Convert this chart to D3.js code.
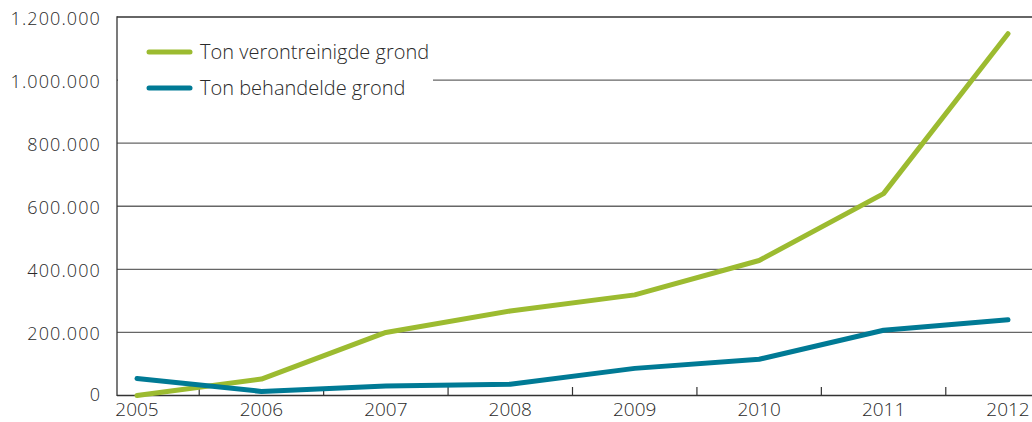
<!DOCTYPE html>
<html><head><meta charset="utf-8">
<script src="https://cdn.jsdelivr.net/npm/d3@7"></script>
<style>body{margin:0;background:#fff}svg{display:block}text{font-family:"Open Sans","Noto Sans",sans-serif;font-weight:300;fill:#2a2a2a}</style>
</head><body><svg id="c" width="1032" height="422"></svg>
<script>
const years = ["2005","2006","2007","2008","2009","2010","2011","2012"];
const verontreinigd = [0, 52000, 200000, 268000, 319000, 428000, 640000, 1147000];
const behandeld = [54000, 13000, 30000, 36000, 86000, 115000, 207000, 240000];
const yTicks = [0, 200000, 400000, 600000, 800000, 1000000, 1200000];
const seriesNames = ["Ton verontreinigde grond", "Ton behandelde grond"];
const colors = ["#9cbb30", "#007a95"];

const svg = d3.select("#c");
const x = d3.scalePoint().domain(years).range([137, 1008]);
const y = d3.scaleLinear().domain([0, 1200000]).range([395.5, 17]);
const fmt = v => v === 0 ? "0" : d3.format(",")(v).replace(/,/g, ".");

// gridlines
svg.append("g").selectAll("line").data(yTicks.filter(d => d > 0)).join("line")
  .attr("x1", 117).attr("x2", 1032).attr("y1", d => y(d)).attr("y2", d => y(d))
  .attr("stroke", d => d === 1200000 ? "#333" : "#666").attr("stroke-width", 1.4);

// y labels
svg.append("g").selectAll("text").data(yTicks).join("text")
  .attr("x", 101).attr("y", d => y(d) + (d === 0 ? 5 : 8)).attr("text-anchor", "end")
  .style("font-size", "18px").style("letter-spacing", "1.1px").text(fmt);

// axes lines
svg.append("line").attr("x1", 117).attr("x2", 117).attr("y1", 16.3).attr("y2", 396).attr("stroke", "#333").attr("stroke-width", 1.3);
svg.append("line").attr("x1", 117).attr("x2", 1032).attr("y1", y(0)).attr("y2", y(0)).attr("stroke", "#333").attr("stroke-width", 1.4);

// x ticks between years
const step = x.step();
svg.append("g").selectAll("line").data(years.slice(0, -1)).join("line")
  .attr("x1", d => x(d) + step / 2).attr("x2", d => x(d) + step / 2)
  .attr("y1", 387).attr("y2", 396).attr("stroke", "#333").attr("stroke-width", 1.2);

// x labels
svg.append("g").selectAll("text").data(years).join("text")
  .attr("x", d => x(d)).attr("y", 416).attr("text-anchor", "middle")
  .style("font-size", "19px").text(d => d);

// legend background
svg.append("rect").attr("x", 118).attr("y", 18).attr("width", 315).attr("height", 95).attr("fill", "#fff");

// lines
const line = d3.line().x((d, i) => x(years[i])).y(d => y(d));
[verontreinigd, behandeld].forEach((s, k) => {
  svg.append("path").datum(s).attr("d", line).attr("fill", "none")
    .attr("stroke", colors[k]).attr("stroke-width", 5).attr("stroke-linecap", "round").attr("stroke-linejoin", "round");
});

// legend
seriesNames.forEach((n, k) => {
  const ly = 52 + k * 36;
  svg.append("line").attr("x1", 149).attr("x2", 190).attr("y1", ly).attr("y2", ly)
    .attr("stroke", colors[k]).attr("stroke-width", 5).attr("stroke-linecap", "round");
  svg.append("text").attr("x", 200).attr("y", ly + 7).style("font-size", "20px").text(n);
});
</script></body></html>
